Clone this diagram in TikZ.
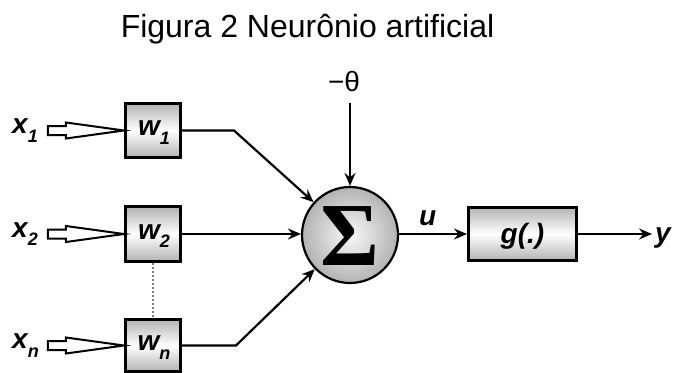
\documentclass[tikz,border=0pt]{standalone}
\usepackage{fontspec}
\setmainfont{Liberation Sans}
\newfontfamily\sigmafont{Liberation Serif}
\usetikzlibrary{arrows.meta}
\newcommand\lsub[2]{#1\raisebox{-0.3em}{\fontsize{18}{18}\selectfont #2}}
\begin{document}
\begin{tikzpicture}[x=1pt,y=-1pt,
  wbox/.style={draw, line width=2.6pt, minimum width=55.5pt, minimum height=54.5pt, inner sep=0pt,
    top color=gray!60, bottom color=gray!60, middle color=white},
  lbl/.style={font=\fontsize{28}{30}\selectfont\bfseries\itshape, inner sep=0pt},
  conn/.style={line width=2.2pt, -{Stealth[length=13pt,width=11pt,inset=4.5pt]}},
  hollow/.style={line width=2pt, fill=white, line join=miter},
]
\useasboundingbox (0,0) rectangle (677,372);
\node[anchor=base, font=\fontsize{32}{36}\selectfont, inner sep=0pt] (title) at (307.5,37) {Figura 2 Neurônio artificial};

\node[wbox] (w1) at (153,130.5) {};
\node[wbox] (w2) at (153,234) {};
\node[wbox, minimum height=52pt] (wn) at (153,345.5) {};
\node[lbl] (w1t) at ([xshift=1pt,yshift=-2pt]w1.center) {\lsub{w}{1}};
\node[lbl] (w2t) at ([xshift=1pt,yshift=-2pt]w2.center) {\lsub{w}{2}};
\node[lbl] (wnt) at ([xshift=1pt,yshift=-2pt]wn.center) {\lsub{w}{n}};

\node[draw, circle, line width=2.2pt, minimum size=96pt, inner sep=0pt,
  inner color=gray!5, outer color=gray!60] (sum) at (350,235) {};
\node[font=\sigmafont\fontsize{90}{90}\selectfont\bfseries, inner sep=0pt] (sig) at (350,236) {Σ};

\node[draw, line width=2.6pt, minimum width=108.5pt, minimum height=53.5pt, inner sep=0pt,
  top color=gray!60, bottom color=gray!60, middle color=white] (g) at (522.5,234) {};
\node[lbl, font=\fontsize{28}{30}\selectfont\bfseries\itshape] (gt) at ([yshift=-2pt]g.center) {g(.)};

\node[inner sep=0pt, font=\fontsize{28}{30}\selectfont] (theta) at (344,81) {−θ};
\coordinate (thtop) at (350,103);

\foreach \i/\t/\yy in {1/1/130.5, 2/2/234, n/n/345.5}{
  \node[lbl, anchor=west] (x\i) at (12,\yy) {\lsub{x}{\t}};
  \draw[hollow] (w\i.west) -- ++(-58,-8) -- ++(0,3.5) -- ++(-18,0) -- ++(0,9) -- ++(18,0) -- ++(0,3.5) -- cycle;
}

\coordinate (j1) at (234,130.5);
\coordinate (jn) at (236,345.5);
\draw[conn] (w1.east) -- (j1) -- (sum);
\draw[conn] (w2.east) -- (sum.west |- w2.east);
\draw[conn] (wn.east) -- (jn) -- (sum);
\draw[conn] (thtop) -- (sum.north);
\draw[gray, line width=2pt, dash pattern=on 2pt off 2pt] (w2.south) -- (wn.north);

\draw[conn] (sum.east |- g.west) -- node[lbl, above=7pt, pos=0.42] (u) {u} (g.west);
\coordinate (out) at (652,234);
\draw[conn] (g.east) -- (out);
\node[lbl, anchor=west] (y) at (655,238) {y};
\end{tikzpicture}
\end{document}
